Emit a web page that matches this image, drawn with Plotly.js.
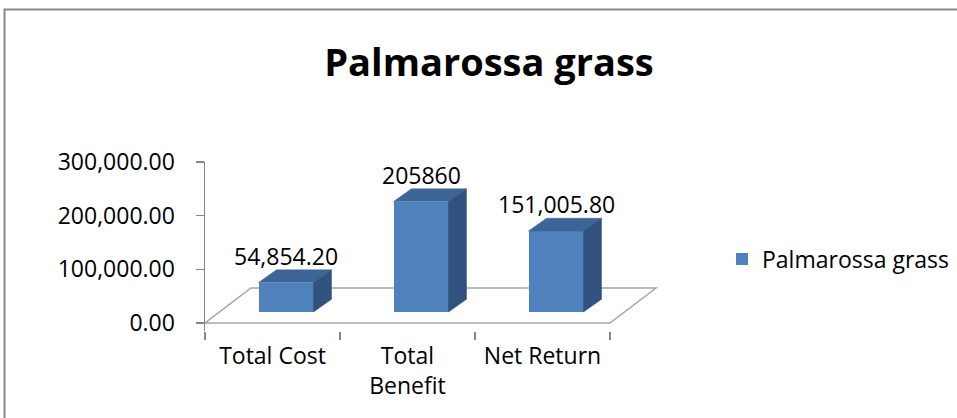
<!DOCTYPE html>
<html>
<head>
<meta charset="utf-8">
<script src="https://cdn.plot.ly/plotly-3.0.1.min.js"></script>
<style>html,body{margin:0;padding:0;background:#fff;}#chart{width:957px;height:418px;}</style>
</head>
<body>
<div id="chart"></div>
<script>
// ---- data ----
const categories = ['Total Cost', 'Total Benefit', 'Net Return'];
const tickLabels = ['Total Cost', 'Total<br>Benefit', 'Net Return'];
const values = [54854.20, 205860, 151005.80];
const valueLabels = ['54,854.20', '205860', '151,005.80'];
const seriesName = 'Palmarossa grass';
const yTickVals = [0, 100000, 200000, 300000];

// ---- geometry (pixels) ----
const W = 957, H = 418;
const axLeft = 205, yTopPx = 162, yZeroPx = 323;
const pxPerCat = 135;
const yMax = 300000;
const pxPerVal = (yZeroPx - yTopPx) / yMax;
const yPad = 15000;           // axis line continues a little below 0
const xMaxCat = 2.9;          // room for the floor's depth on the right
const floorDx = 46, floorDy = 35;   // floor depth
const barShiftX = 13.5, barShiftY = 11; // plane of the bars
const barDx = 18, barDy = 12.7;     // bar depth
const barW = 55 / pxPerCat;

const xRightPx = axLeft + (xMaxCat + 0.5) * pxPerCat;
const yBotPx = yZeroPx + yPad * pxPerVal;
const dom = (a, b) => [a / W, b / W];
const vdom = (top, bot) => [(H - bot) / H, (H - top) / H];

const font = '"Open Sans", Lato, sans-serif';
const fcDx = floorDx / pxPerCat, fcDy = floorDy / pxPerVal;
const bDx = barDx / pxPerCat, bDy = barDy / pxPerVal;

const shapes = [];
// outer chart border
shapes.push({type: 'rect', xref: 'paper', yref: 'paper', x0: 4.5 / W, x1: 1.05, y0: -0.05, y1: 1 - 9.5 / H,
  line: {color: '#888888', width: 2}, layer: 'below'});
// floor
const fx0 = -0.5, fx1 = categories.length - 0.5;
shapes.push({type: 'path', xref: 'x', yref: 'y', layer: 'below',
  path: `M${fx0},0 L${fx1},0 L${fx1 + fcDx},${fcDy} L${fx0 + fcDx},${fcDy} Z`,
  line: {color: '#a6a6a6', width: 1.5}, fillcolor: 'rgba(0,0,0,0)'});
// bar top and side faces
values.forEach((v, i) => {
  const l = i - barW / 2, r = i + barW / 2;
  shapes.push({type: 'path', xref: 'x2', yref: 'y2', layer: 'above',
    path: `M${l},${v} L${r},${v} L${r + bDx},${v + bDy} L${l + bDx},${v + bDy} Z`,
    fillcolor: '#3d6597', line: {color: '#3d6597', width: 0.5}});
  shapes.push({type: 'path', xref: 'x2', yref: 'y2', layer: 'above',
    path: `M${r},0 L${r},${v} L${r + bDx},${v + bDy} L${r + bDx},${bDy} Z`,
    fillcolor: '#31527e', line: {color: '#31527e', width: 0.5}});
});

const annotations = values.map((v, i) => ({
  xref: 'x2', yref: 'y2', x: i, y: v + bDy, text: valueLabels[i],
  showarrow: false, yanchor: 'bottom', yshift: -4,
  font: {family: font, size: 23, color: '#000'}
}));

const data = [
  {type: 'scatter', x: categories, y: values, mode: 'none', xaxis: 'x', yaxis: 'y',
   showlegend: false, hoverinfo: 'skip'},
  {type: 'bar', x: categories, y: values, name: seriesName, xaxis: 'x2', yaxis: 'y2',
   width: barW, marker: {color: '#4f81bd', line: {width: 0}}, showlegend: true}
];

const layout = {
  width: W, height: H,
  margin: {l: 0, r: 0, t: 0, b: 0},
  paper_bgcolor: '#fff', plot_bgcolor: 'rgba(0,0,0,0)',
  font: {family: font, size: 23, color: '#000'},
  title: {text: '<b>Palmarossa grass</b>', x: 489 / W, xanchor: 'center', xref: 'paper',
          y: 1 - 63 / H, yanchor: 'middle', yref: 'paper',
          font: {family: font, size: 38, color: '#000'}},
  xaxis: {domain: dom(axLeft, xRightPx), type: 'category', range: [-0.5, xMaxCat],
          tickvals: categories, ticktext: tickLabels, tickson: 'boundaries',
          ticks: 'outside', ticklen: 8, tickcolor: '#868686', tickwidth: 1.5,
          showline: false, showgrid: false, zeroline: false, fixedrange: true,
          tickfont: {family: font, size: 23, color: '#000'}, ticklabelstandoff: 9},
  yaxis: {domain: vdom(yTopPx, yBotPx), range: [-yPad, yMax], tickvals: yTickVals,
          tickformat: ',.2f', ticks: 'outside', ticklen: 8, tickcolor: '#868686', tickwidth: 1.5,
          showline: true, linecolor: '#868686', linewidth: 1.5, showgrid: false, zeroline: false,
          tickfont: {family: font, size: 23, color: '#000'}, ticklabelstandoff: 16},
  xaxis2: {domain: dom(axLeft + barShiftX, xRightPx + barShiftX), type: 'category',
           range: [-0.5, xMaxCat], visible: false, anchor: 'y2'},
  yaxis2: {domain: vdom(yTopPx - barShiftY, yBotPx - barShiftY), range: [-yPad, yMax],
           visible: false, anchor: 'x2'},
  legend: {x: 722 / W, y: 1 - 259 / H, xanchor: 'left', yanchor: 'middle',
           font: {family: font, size: 23, color: '#000'}, bgcolor: 'rgba(0,0,0,0)'},
  shapes: shapes,
  annotations: annotations,
  bargap: 0
};

Plotly.newPlot('chart', data, layout, {displayModeBar: false, staticPlot: true});
</script>
</body>
</html>
